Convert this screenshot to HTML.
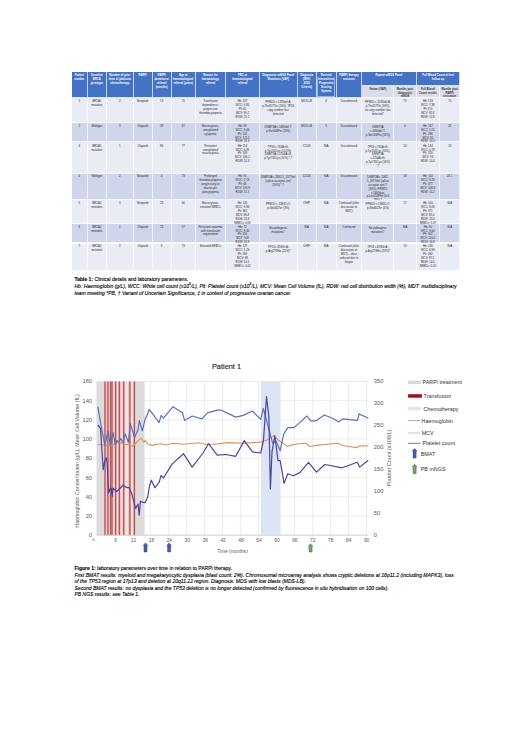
<!DOCTYPE html>
<html><head><meta charset="utf-8"><title>Table and Figure</title>
<style>
html,body{margin:0;padding:0;background:#fff;}
body{width:520px;height:736px;position:relative;overflow:hidden;font-family:"Liberation Sans",sans-serif;}
.c{position:absolute;box-sizing:border-box;border-right:0.7px solid rgba(255,255,255,0.7);border-bottom:0.7px solid rgba(255,255,255,0.8);overflow:visible;}
.c .t{text-align:center;font-size:2.8px;line-height:3.84px;padding:1px 0 0;white-space:nowrap;}
.c.h .t{color:#fff;font-weight:bold;padding-top:0.77px;line-height:4.07px;}
.c.s .t{color:#333;font-weight:bold;padding-top:2.55px;line-height:3.45px;}
.c.b .t{color:#262626;}
.cap{position:absolute;left:74.5px;font-size:5.03px;line-height:6.7px;color:#000;white-space:nowrap;-webkit-text-stroke:0.12px #000;}
.cap i{font-style:italic;}
svg.chart{position:absolute;left:0;top:0;}
svg text{font-family:"Liberation Sans",sans-serif;}
</style></head><body>
<div class="c h" style="left:71.85px;top:72.20px;width:16.00px;height:25.50px;background:#4472c4"><div class="t">Patient<br>number</div></div>
<div class="c h" style="left:87.85px;top:72.20px;width:19.00px;height:25.50px;background:#4472c4"><div class="t">Germline<br>BRCA<br>genotype</div></div>
<div class="c h" style="left:106.85px;top:72.20px;width:27.00px;height:25.50px;background:#4472c4"><div class="t">Number of prior<br>lines of platinum<br>chemotherapy</div></div>
<div class="c h" style="left:133.85px;top:72.20px;width:18.80px;height:25.50px;background:#4472c4"><div class="t">PARPi</div></div>
<div class="c h" style="left:152.65px;top:72.20px;width:19.00px;height:25.50px;background:#4472c4"><div class="t">PARPi<br>duration at<br>referral<br>(months)</div></div>
<div class="c h" style="left:171.65px;top:72.20px;width:24.10px;height:25.50px;background:#4472c4"><div class="t">Age at<br>haematological<br>referral (years)</div></div>
<div class="c h" style="left:195.75px;top:72.20px;width:30.40px;height:25.50px;background:#4472c4"><div class="t">Reason for<br>haematology<br>referral</div></div>
<div class="c h" style="left:226.15px;top:72.20px;width:33.60px;height:25.50px;background:#4472c4"><div class="t">FBC at<br>haematological<br>referral</div></div>
<div class="c h" style="left:259.75px;top:72.20px;width:37.90px;height:25.50px;background:#4472c4"><div class="t">Diagnostic mNGS Panel<br>Mutations (VAF)</div></div>
<div class="c h" style="left:297.65px;top:72.20px;width:19.00px;height:25.50px;background:#4472c4"><div class="t">Diagnosis<br>(WHO<br>2022<br>Criteria)</div></div>
<div class="c h" style="left:316.65px;top:72.20px;width:19.90px;height:25.50px;background:#4472c4"><div class="t">Revised<br>International</div></div>
<div class="c h" style="left:317.10px;top:79.0px;width:18.30px;height:17.80px;background:#4472c4;border:0.6px solid #9db3e6;"><div class="t" style="padding-top:0.8px">Prognostic<br>Scoring<br>System</div></div>
<div class="c h" style="left:336.55px;top:72.20px;width:25.70px;height:25.50px;background:#4472c4"><div class="t">PARPi therapy<br>outcome</div></div>
<div class="c h" style="left:362.25px;top:72.20px;width:54.30px;height:13.75px;background:#4472c4"><div class="t">Repeat mNGS Panel</div></div>
<div class="c h" style="left:416.55px;top:72.20px;width:43.90px;height:13.75px;background:#4472c4"><div class="t">Full Blood Count at last<br>follow up</div></div>
<div class="c s" style="left:362.25px;top:85.95px;width:32.20px;height:11.75px;background:#dadce8"><div class="t">Variant (VAF)</div></div>
<div class="c s" style="left:394.45px;top:85.95px;width:22.10px;height:11.75px;background:#dadce8"><div class="t">Months post<br>diagnostic<br>mNGS</div></div>
<div class="c s" style="left:416.55px;top:85.95px;width:23.60px;height:11.75px;background:#dadce8"><div class="t">Full Blood<br>Count results</div></div>
<div class="c s" style="left:440.15px;top:85.95px;width:20.30px;height:11.75px;background:#dadce8"><div class="t">Months post<br>PARPi<br>cessation</div></div>
<div class="c b" style="left:71.85px;top:97.70px;width:16.00px;height:25.70px;background:#e9ebf5"><div class="t" style="padding-top:2.78px">1</div></div>
<div class="c b" style="left:87.85px;top:97.70px;width:19.00px;height:25.70px;background:#e9ebf5"><div class="t" style="padding-top:2.78px">BRCA1<br>mutation</div></div>
<div class="c b" style="left:106.85px;top:97.70px;width:27.00px;height:25.70px;background:#e9ebf5"><div class="t" style="padding-top:2.78px">2</div></div>
<div class="c b" style="left:133.85px;top:97.70px;width:18.80px;height:25.70px;background:#e9ebf5"><div class="t" style="padding-top:2.78px">Niraparib</div></div>
<div class="c b" style="left:152.65px;top:97.70px;width:19.00px;height:25.70px;background:#e9ebf5"><div class="t" style="padding-top:2.78px">13</div></div>
<div class="c b" style="left:171.65px;top:97.70px;width:24.10px;height:25.70px;background:#e9ebf5"><div class="t" style="padding-top:2.78px">75</div></div>
<div class="c b" style="left:195.75px;top:97.70px;width:30.40px;height:25.70px;background:#e9ebf5"><div class="t" style="padding-top:2.78px">Transfusion<br>dependence,<br>progressive<br>thrombocytopenia</div></div>
<div class="c b" style="left:226.15px;top:97.70px;width:33.60px;height:25.70px;background:#e9ebf5"><div class="t" style="padding-top:2.78px">Hb: 107<br>WCC: 4.80<br>Plt 45<br>MCV: 99.2<br>RDW: 21.1</div></div>
<div class="c b" style="left:259.75px;top:97.70px;width:37.90px;height:25.70px;background:#e9ebf5"><div class="t" style="padding-top:3.78px">PPM1D c.1285del A,<br>p.Thr457Thr (20%), TP53<br>copy number loss<br>detected</div></div>
<div class="c b" style="left:297.65px;top:97.70px;width:19.00px;height:25.70px;background:#e9ebf5"><div class="t" style="padding-top:2.78px">MDS-LB</div></div>
<div class="c b" style="left:316.65px;top:97.70px;width:19.90px;height:25.70px;background:#e9ebf5"><div class="t" style="padding-top:2.78px">4</div></div>
<div class="c b" style="left:336.55px;top:97.70px;width:25.70px;height:25.70px;background:#e9ebf5"><div class="t" style="padding-top:2.78px">Discontinued</div></div>
<div class="c b" style="left:362.25px;top:97.70px;width:32.20px;height:25.70px;background:#e9ebf5"><div class="t" style="padding-top:3.78px">PPM1D c.1285del A,<br>p.Thr457Thr (19%),<br>no copy number loss<br>detected*</div></div>
<div class="c b" style="left:394.45px;top:97.70px;width:22.10px;height:25.70px;background:#e9ebf5"><div class="t" style="padding-top:2.78px">75</div></div>
<div class="c b" style="left:416.55px;top:97.70px;width:23.60px;height:25.70px;background:#e9ebf5"><div class="t" style="padding-top:2.78px">Hb: 133<br>WCC: 7.38<br>Plt 170<br>MCV: 92.8<br>RDW: 12.8</div></div>
<div class="c b" style="left:440.15px;top:97.70px;width:20.30px;height:25.70px;background:#e9ebf5"><div class="t" style="padding-top:2.78px">75</div></div>
<div class="c b" style="left:71.85px;top:123.40px;width:16.00px;height:19.00px;background:#cfd5ea"><div class="t" style="padding-top:1.68px">2</div></div>
<div class="c b" style="left:87.85px;top:123.40px;width:19.00px;height:19.00px;background:#cfd5ea"><div class="t" style="padding-top:1.68px">Wildtype</div></div>
<div class="c b" style="left:106.85px;top:123.40px;width:27.00px;height:19.00px;background:#cfd5ea"><div class="t" style="padding-top:1.68px">3</div></div>
<div class="c b" style="left:133.85px;top:123.40px;width:18.80px;height:19.00px;background:#cfd5ea"><div class="t" style="padding-top:1.68px">Olaparib</div></div>
<div class="c b" style="left:152.65px;top:123.40px;width:19.00px;height:19.00px;background:#cfd5ea"><div class="t" style="padding-top:1.68px">38</div></div>
<div class="c b" style="left:171.65px;top:123.40px;width:24.10px;height:19.00px;background:#cfd5ea"><div class="t" style="padding-top:1.68px">67</div></div>
<div class="c b" style="left:195.75px;top:123.40px;width:30.40px;height:19.00px;background:#cfd5ea"><div class="t" style="padding-top:1.68px">Macrocytosis,<br>unexplained<br>cytopenia</div></div>
<div class="c b" style="left:226.15px;top:123.40px;width:33.60px;height:19.00px;background:#cfd5ea"><div class="t" style="padding-top:1.68px">Hb: 99<br>WCC: 3.44<br>Plt: 102<br>MCV: 115.5<br>RDW: 24.4</div></div>
<div class="c b" style="left:259.75px;top:123.40px;width:37.90px;height:19.00px;background:#cfd5ea"><div class="t" style="padding-top:2.68px">DNMT3A c.1690del T,<br>p.Ser564Pro (29%)</div></div>
<div class="c b" style="left:297.65px;top:123.40px;width:19.00px;height:19.00px;background:#cfd5ea"><div class="t" style="padding-top:1.68px">MDS-LB</div></div>
<div class="c b" style="left:316.65px;top:123.40px;width:19.90px;height:19.00px;background:#cfd5ea"><div class="t" style="padding-top:1.68px">3</div></div>
<div class="c b" style="left:336.55px;top:123.40px;width:25.70px;height:19.00px;background:#cfd5ea"><div class="t" style="padding-top:1.68px">Discontinued</div></div>
<div class="c b" style="left:362.25px;top:123.40px;width:32.20px;height:19.00px;background:#cfd5ea"><div class="t" style="padding-top:2.68px">DNMT3A<br>c.1690del T,<br>p.Ser564Pro (18%)</div></div>
<div class="c b" style="left:394.45px;top:123.40px;width:22.10px;height:19.00px;background:#cfd5ea"><div class="t" style="padding-top:1.68px">6</div></div>
<div class="c b" style="left:416.55px;top:123.40px;width:23.60px;height:19.00px;background:#cfd5ea"><div class="t" style="padding-top:1.68px">Hb: 137<br>WCC: 5.55<br>Plt: 238<br>MCV: 95<br>RDW: 13.3</div></div>
<div class="c b" style="left:440.15px;top:123.40px;width:20.30px;height:19.00px;background:#cfd5ea"><div class="t" style="padding-top:1.68px">32</div></div>
<div class="c b" style="left:71.85px;top:142.40px;width:16.00px;height:31.50px;background:#e9ebf5"><div class="t" style="padding-top:2.28px">3</div></div>
<div class="c b" style="left:87.85px;top:142.40px;width:19.00px;height:31.50px;background:#e9ebf5"><div class="t" style="padding-top:2.28px">BRCA1<br>mutation</div></div>
<div class="c b" style="left:106.85px;top:142.40px;width:27.00px;height:31.50px;background:#e9ebf5"><div class="t" style="padding-top:2.28px">1</div></div>
<div class="c b" style="left:133.85px;top:142.40px;width:18.80px;height:31.50px;background:#e9ebf5"><div class="t" style="padding-top:2.28px">Olaparib</div></div>
<div class="c b" style="left:152.65px;top:142.40px;width:19.00px;height:31.50px;background:#e9ebf5"><div class="t" style="padding-top:2.28px">86</div></div>
<div class="c b" style="left:171.65px;top:142.40px;width:24.10px;height:31.50px;background:#e9ebf5"><div class="t" style="padding-top:2.28px">77</div></div>
<div class="c b" style="left:195.75px;top:142.40px;width:30.40px;height:31.50px;background:#e9ebf5"><div class="t" style="padding-top:2.28px">Persistent<br>unexplained<br>macrocytosis</div></div>
<div class="c b" style="left:226.15px;top:142.40px;width:33.60px;height:31.50px;background:#e9ebf5"><div class="t" style="padding-top:2.28px">Hb: 116<br>WCC: 6.81<br>Plt: 109<br>MCV: 106.1<br>RDW: 14.3</div></div>
<div class="c b" style="left:259.75px;top:142.40px;width:37.90px;height:31.50px;background:#e9ebf5"><div class="t" style="padding-top:3.28px">TP53 c.761A>G,<br>p.Tyr254Cys (10.5%),<br>DNMT3A c.2204A>G,<br>p.Tyr735Cys (14%) *,†</div></div>
<div class="c b" style="left:297.65px;top:142.40px;width:19.00px;height:31.50px;background:#e9ebf5"><div class="t" style="padding-top:2.28px">CCUS</div></div>
<div class="c b" style="left:316.65px;top:142.40px;width:19.90px;height:31.50px;background:#e9ebf5"><div class="t" style="padding-top:2.28px">N/A</div></div>
<div class="c b" style="left:336.55px;top:142.40px;width:25.70px;height:31.50px;background:#e9ebf5"><div class="t" style="padding-top:2.28px">Discontinued</div></div>
<div class="c b" style="left:362.25px;top:142.40px;width:32.20px;height:31.50px;background:#e9ebf5"><div class="t" style="padding-top:3.28px">TP53 c.761A>G,<br>p.Tyr254Cys (16%),<br>DNMT3A<br>c.2204A>G,<br>p.Tyr735Cys (16%)<br>*,†</div></div>
<div class="c b" style="left:394.45px;top:142.40px;width:22.10px;height:31.50px;background:#e9ebf5"><div class="t" style="padding-top:2.28px">20</div></div>
<div class="c b" style="left:416.55px;top:142.40px;width:23.60px;height:31.50px;background:#e9ebf5"><div class="t" style="padding-top:2.28px">Hb: 144<br>WCC: 6.78<br>Plt: 320<br>MCV: 93<br>RDW: 13.4</div></div>
<div class="c b" style="left:440.15px;top:142.40px;width:20.30px;height:31.50px;background:#e9ebf5"><div class="t" style="padding-top:2.28px">19</div></div>
<div class="c b" style="left:71.85px;top:173.90px;width:16.00px;height:25.90px;background:#cfd5ea"><div class="t" style="padding-top:1.28px">4</div></div>
<div class="c b" style="left:87.85px;top:173.90px;width:19.00px;height:25.90px;background:#cfd5ea"><div class="t" style="padding-top:1.28px">Wildtype</div></div>
<div class="c b" style="left:106.85px;top:173.90px;width:27.00px;height:25.90px;background:#cfd5ea"><div class="t" style="padding-top:1.28px">2</div></div>
<div class="c b" style="left:133.85px;top:173.90px;width:18.80px;height:25.90px;background:#cfd5ea"><div class="t" style="padding-top:1.28px">Niraparib</div></div>
<div class="c b" style="left:152.65px;top:173.90px;width:19.00px;height:25.90px;background:#cfd5ea"><div class="t" style="padding-top:1.28px">4</div></div>
<div class="c b" style="left:171.65px;top:173.90px;width:24.10px;height:25.90px;background:#cfd5ea"><div class="t" style="padding-top:1.28px">73</div></div>
<div class="c b" style="left:195.75px;top:173.90px;width:30.40px;height:25.90px;background:#cfd5ea"><div class="t" style="padding-top:1.28px">Prolonged<br>thrombocytopenia<br>progressing to<br>macrocytic<br>pancytopenia</div></div>
<div class="c b" style="left:226.15px;top:173.90px;width:33.60px;height:25.90px;background:#cfd5ea"><div class="t" style="padding-top:1.28px">Hb: 95<br>WCC: 2.19<br>Plt: 48<br>MCV: 109.9<br>RDW: 15.7</div></div>
<div class="c b" style="left:259.75px;top:173.90px;width:37.90px;height:25.90px;background:#cfd5ea"><div class="t" style="padding-top:2.28px">DNMT3A c.2082-1_2077del<br>(splice acceptor site)<br>(59%) * †</div></div>
<div class="c b" style="left:297.65px;top:173.90px;width:19.00px;height:25.90px;background:#cfd5ea"><div class="t" style="padding-top:1.28px">CCUS</div></div>
<div class="c b" style="left:316.65px;top:173.90px;width:19.90px;height:25.90px;background:#cfd5ea"><div class="t" style="padding-top:1.28px">N/A</div></div>
<div class="c b" style="left:336.55px;top:173.90px;width:25.70px;height:25.90px;background:#cfd5ea"><div class="t" style="padding-top:1.28px">Discontinued</div></div>
<div class="c b" style="left:362.25px;top:173.90px;width:32.20px;height:25.90px;background:#cfd5ea"><div class="t" style="padding-top:2.28px">DNMT3A c.2082-<br>1_2077del (splice<br>acceptor site) †<br>(18%), PPM1D<br>c.1661dup,<br>p.Leu554Phe (fsX<br>18%) †</div></div>
<div class="c b" style="left:394.45px;top:173.90px;width:22.10px;height:25.90px;background:#cfd5ea"><div class="t" style="padding-top:1.28px">18</div></div>
<div class="c b" style="left:416.55px;top:173.90px;width:23.60px;height:25.90px;background:#cfd5ea"><div class="t" style="padding-top:1.28px">Hb: 114<br>WCC: 8.29<br>Plt: 377<br>MCV: 106.8<br>RDW: 15.2</div></div>
<div class="c b" style="left:440.15px;top:173.90px;width:20.30px;height:25.90px;background:#cfd5ea"><div class="t" style="padding-top:1.28px">24 ‡</div></div>
<div class="c b" style="left:71.85px;top:199.80px;width:16.00px;height:24.40px;background:#e9ebf5"><div class="t" style="padding-top:2.58px">5</div></div>
<div class="c b" style="left:87.85px;top:199.80px;width:19.00px;height:24.40px;background:#e9ebf5"><div class="t" style="padding-top:2.58px">BRCA2<br>mutation</div></div>
<div class="c b" style="left:106.85px;top:199.80px;width:27.00px;height:24.40px;background:#e9ebf5"><div class="t" style="padding-top:2.58px">3</div></div>
<div class="c b" style="left:133.85px;top:199.80px;width:18.80px;height:24.40px;background:#e9ebf5"><div class="t" style="padding-top:2.58px">Niraparib</div></div>
<div class="c b" style="left:152.65px;top:199.80px;width:19.00px;height:24.40px;background:#e9ebf5"><div class="t" style="padding-top:2.58px">29</div></div>
<div class="c b" style="left:171.65px;top:199.80px;width:24.10px;height:24.40px;background:#e9ebf5"><div class="t" style="padding-top:2.58px">60</div></div>
<div class="c b" style="left:195.75px;top:199.80px;width:30.40px;height:24.40px;background:#e9ebf5"><div class="t" style="padding-top:2.58px">Macrocytosis,<br>elevated NRBCs</div></div>
<div class="c b" style="left:226.15px;top:199.80px;width:33.60px;height:24.40px;background:#e9ebf5"><div class="t" style="padding-top:2.58px">Hb: 145<br>WCC: 9.96<br>Plt: 362<br>MCV: 96.8<br>RDW: 13.8<br>NRBCs: 0.09</div></div>
<div class="c b" style="left:259.75px;top:199.80px;width:37.90px;height:24.40px;background:#e9ebf5"><div class="t" style="padding-top:3.58px">PPM1D c.1384C>T,<br>p.Gln462Ter (3%)</div></div>
<div class="c b" style="left:297.65px;top:199.80px;width:19.00px;height:24.40px;background:#e9ebf5"><div class="t" style="padding-top:2.58px">CHIP</div></div>
<div class="c b" style="left:316.65px;top:199.80px;width:19.90px;height:24.40px;background:#e9ebf5"><div class="t" style="padding-top:2.58px">N/A</div></div>
<div class="c b" style="left:336.55px;top:199.80px;width:25.70px;height:24.40px;background:#e9ebf5"><div class="t" style="padding-top:2.58px">Continued (after<br>discussion at<br>MDT)</div></div>
<div class="c b" style="left:362.25px;top:199.80px;width:32.20px;height:24.40px;background:#e9ebf5"><div class="t" style="padding-top:3.58px">PPM1D c.1384C>T,<br>p.Gln462Ter (4%)</div></div>
<div class="c b" style="left:394.45px;top:199.80px;width:22.10px;height:24.40px;background:#e9ebf5"><div class="t" style="padding-top:2.58px">17</div></div>
<div class="c b" style="left:416.55px;top:199.80px;width:23.60px;height:24.40px;background:#e9ebf5"><div class="t" style="padding-top:2.58px">Hb: 140<br>WCC: 8.08<br>Plt: 371<br>MCV: 85.0<br>RDW: 13.0<br>NRBCs: 0.07</div></div>
<div class="c b" style="left:440.15px;top:199.80px;width:20.30px;height:24.40px;background:#e9ebf5"><div class="t" style="padding-top:2.58px">N/A</div></div>
<div class="c b" style="left:71.85px;top:224.20px;width:16.00px;height:19.30px;background:#cfd5ea"><div class="t" style="padding-top:1.58px">6</div></div>
<div class="c b" style="left:87.85px;top:224.20px;width:19.00px;height:19.30px;background:#cfd5ea"><div class="t" style="padding-top:1.58px">BRCA2<br>mutation</div></div>
<div class="c b" style="left:106.85px;top:224.20px;width:27.00px;height:19.30px;background:#cfd5ea"><div class="t" style="padding-top:1.58px">1</div></div>
<div class="c b" style="left:133.85px;top:224.20px;width:18.80px;height:19.30px;background:#cfd5ea"><div class="t" style="padding-top:1.58px">Olaparib</div></div>
<div class="c b" style="left:152.65px;top:224.20px;width:19.00px;height:19.30px;background:#cfd5ea"><div class="t" style="padding-top:1.58px">18</div></div>
<div class="c b" style="left:171.65px;top:224.20px;width:24.10px;height:19.30px;background:#cfd5ea"><div class="t" style="padding-top:1.58px">57</div></div>
<div class="c b" style="left:195.75px;top:224.20px;width:30.40px;height:19.30px;background:#cfd5ea"><div class="t" style="padding-top:1.58px">Persistent anaemia<br>with transfusion<br>requirement</div></div>
<div class="c b" style="left:226.15px;top:224.20px;width:33.60px;height:19.30px;background:#cfd5ea"><div class="t" style="padding-top:1.58px">Hb: 72<br>WCC: 8.40<br>Plt: 310<br>MCV: 103<br>RDW: 20.8</div></div>
<div class="c b" style="left:259.75px;top:224.20px;width:37.90px;height:19.30px;background:#cfd5ea"><div class="t" style="padding-top:2.58px">No pathogenic<br>mutations*</div></div>
<div class="c b" style="left:297.65px;top:224.20px;width:19.00px;height:19.30px;background:#cfd5ea"><div class="t" style="padding-top:1.58px">N/A</div></div>
<div class="c b" style="left:316.65px;top:224.20px;width:19.90px;height:19.30px;background:#cfd5ea"><div class="t" style="padding-top:1.58px">N/A</div></div>
<div class="c b" style="left:336.55px;top:224.20px;width:25.70px;height:19.30px;background:#cfd5ea"><div class="t" style="padding-top:1.58px">Continued</div></div>
<div class="c b" style="left:362.25px;top:224.20px;width:32.20px;height:19.30px;background:#cfd5ea"><div class="t" style="padding-top:2.58px">No pathogenic<br>mutations*</div></div>
<div class="c b" style="left:394.45px;top:224.20px;width:22.10px;height:19.30px;background:#cfd5ea"><div class="t" style="padding-top:1.58px">N/A</div></div>
<div class="c b" style="left:416.55px;top:224.20px;width:23.60px;height:19.30px;background:#cfd5ea"><div class="t" style="padding-top:1.58px">Hb: 80<br>WCC: 9.00<br>Plt: 302<br>MCV: 116.0<br>RDW: 16.8</div></div>
<div class="c b" style="left:440.15px;top:224.20px;width:20.30px;height:19.30px;background:#cfd5ea"><div class="t" style="padding-top:1.58px">N/A</div></div>
<div class="c b" style="left:71.85px;top:243.50px;width:16.00px;height:27.30px;background:#e9ebf5"><div class="t" style="padding-top:1.88px">7</div></div>
<div class="c b" style="left:87.85px;top:243.50px;width:19.00px;height:27.30px;background:#e9ebf5"><div class="t" style="padding-top:1.88px">BRCA2<br>mutation</div></div>
<div class="c b" style="left:106.85px;top:243.50px;width:27.00px;height:27.30px;background:#e9ebf5"><div class="t" style="padding-top:1.88px">2</div></div>
<div class="c b" style="left:133.85px;top:243.50px;width:18.80px;height:27.30px;background:#e9ebf5"><div class="t" style="padding-top:1.88px">Olaparib</div></div>
<div class="c b" style="left:152.65px;top:243.50px;width:19.00px;height:27.30px;background:#e9ebf5"><div class="t" style="padding-top:1.88px">9</div></div>
<div class="c b" style="left:171.65px;top:243.50px;width:24.10px;height:27.30px;background:#e9ebf5"><div class="t" style="padding-top:1.88px">73</div></div>
<div class="c b" style="left:195.75px;top:243.50px;width:30.40px;height:27.30px;background:#e9ebf5"><div class="t" style="padding-top:1.88px">Elevated NRBCs</div></div>
<div class="c b" style="left:226.15px;top:243.50px;width:33.60px;height:27.30px;background:#e9ebf5"><div class="t" style="padding-top:1.88px">Hb: 127<br>WCC: 5.29<br>Plt: 280<br>MCV: 88<br>RDW: 14.1<br>NRBCs: 0.02</div></div>
<div class="c b" style="left:259.75px;top:243.50px;width:37.90px;height:27.30px;background:#e9ebf5"><div class="t" style="padding-top:2.88px">TP53 c.818G>A,<br>p.Arg273His (22%)*</div></div>
<div class="c b" style="left:297.65px;top:243.50px;width:19.00px;height:27.30px;background:#e9ebf5"><div class="t" style="padding-top:1.88px">CHIP</div></div>
<div class="c b" style="left:316.65px;top:243.50px;width:19.90px;height:27.30px;background:#e9ebf5"><div class="t" style="padding-top:1.88px">N/A</div></div>
<div class="c b" style="left:336.55px;top:243.50px;width:25.70px;height:27.30px;background:#e9ebf5"><div class="t" style="padding-top:1.88px">Continued (after<br>discussion at<br>MDT) – dose<br>reduced due to<br>fatigue</div></div>
<div class="c b" style="left:362.25px;top:243.50px;width:32.20px;height:27.30px;background:#e9ebf5"><div class="t" style="padding-top:2.88px">TP53 c.818G>A,<br>p.Arg273His (19%)*</div></div>
<div class="c b" style="left:394.45px;top:243.50px;width:22.10px;height:27.30px;background:#e9ebf5"><div class="t" style="padding-top:1.88px">13</div></div>
<div class="c b" style="left:416.55px;top:243.50px;width:23.60px;height:27.30px;background:#e9ebf5"><div class="t" style="padding-top:1.88px">Hb: 136<br>WCC: 6.93<br>Plt: 432<br>MCV: 87.5<br>RDW: 14.0<br>NRBCs: 0.01</div></div>
<div class="c b" style="left:440.15px;top:243.50px;width:20.30px;height:27.30px;background:#e9ebf5"><div class="t" style="padding-top:1.88px">N/A</div></div>
<div class="cap" style="top:276.2px"><b>Table 1:</b> Clinical details and laboratory parameters.<br><i>Hb: Haemoglobin (g/L), WCC: White cell count (x10<sup style="font-size:3px;line-height:0">9</sup>/L), Plt: Platelet count (x10<sup style="font-size:3px;line-height:0">9</sup>/L), MCV: Mean Cell Volume (fL), RDW: red cell distribution width (%), MDT: multidisciplinary</i><br><i>team meeting *PB, † Variant of Uncertain Significance, ‡ in context of progressive ovarian cancer.</i></div>
<svg class="chart" width="520" height="736" viewBox="0 0 520 736">
<g stroke="#e8e8e8" stroke-width="0.8"><line x1="96.9" x2="368" y1="535.2" y2="535.2"/><line x1="96.9" x2="368" y1="516.0" y2="516.0"/><line x1="96.9" x2="368" y1="496.8" y2="496.8"/><line x1="96.9" x2="368" y1="477.6" y2="477.6"/><line x1="96.9" x2="368" y1="458.4" y2="458.4"/><line x1="96.9" x2="368" y1="439.1" y2="439.1"/><line x1="96.9" x2="368" y1="419.9" y2="419.9"/><line x1="96.9" x2="368" y1="400.7" y2="400.7"/><line x1="96.9" x2="368" y1="381.5" y2="381.5"/><line x1="96.6" x2="96.6" y1="381.5" y2="535.2"/><line x1="114.6" x2="114.6" y1="381.5" y2="535.2"/><line x1="132.6" x2="132.6" y1="381.5" y2="535.2"/><line x1="150.6" x2="150.6" y1="381.5" y2="535.2"/><line x1="168.6" x2="168.6" y1="381.5" y2="535.2"/><line x1="186.6" x2="186.6" y1="381.5" y2="535.2"/><line x1="204.6" x2="204.6" y1="381.5" y2="535.2"/><line x1="222.6" x2="222.6" y1="381.5" y2="535.2"/><line x1="240.6" x2="240.6" y1="381.5" y2="535.2"/><line x1="258.6" x2="258.6" y1="381.5" y2="535.2"/><line x1="276.6" x2="276.6" y1="381.5" y2="535.2"/><line x1="294.6" x2="294.6" y1="381.5" y2="535.2"/><line x1="312.6" x2="312.6" y1="381.5" y2="535.2"/><line x1="330.6" x2="330.6" y1="381.5" y2="535.2"/><line x1="348.6" x2="348.6" y1="381.5" y2="535.2"/><line x1="366.6" x2="366.6" y1="381.5" y2="535.2"/></g>
<rect x="96.9" y="381.5" width="47.6" height="153.7" fill="#dcdcdc"/>
<rect x="261.0" y="381.5" width="19.6" height="153.7" fill="#dde4f4"/>
<rect x="103.2" y="381.5" width="32.8" height="153.7" fill="#f3e2e2"/>
<g stroke="#eebcbc" stroke-width="2.6"><line x1="105" x2="105" y1="381.5" y2="535.2"/><line x1="107.9" x2="107.9" y1="381.5" y2="535.2"/><line x1="110.6" x2="110.6" y1="381.5" y2="535.2"/><line x1="112.0" x2="112.0" y1="381.5" y2="535.2"/><line x1="115.6" x2="115.6" y1="381.5" y2="535.2"/><line x1="119.4" x2="119.4" y1="381.5" y2="535.2"/><line x1="123.7" x2="123.7" y1="381.5" y2="535.2"/><line x1="129.8" x2="129.8" y1="381.5" y2="535.2"/><line x1="134.4" x2="134.4" y1="381.5" y2="535.2"/></g>
<g stroke="#b0585b" stroke-width="1.3"><line x1="105" x2="105" y1="381.5" y2="535.2"/><line x1="107.9" x2="107.9" y1="381.5" y2="535.2"/><line x1="110.6" x2="110.6" y1="381.5" y2="535.2"/><line x1="112.0" x2="112.0" y1="381.5" y2="535.2"/><line x1="115.6" x2="115.6" y1="381.5" y2="535.2"/><line x1="119.4" x2="119.4" y1="381.5" y2="535.2"/><line x1="123.7" x2="123.7" y1="381.5" y2="535.2"/><line x1="129.8" x2="129.8" y1="381.5" y2="535.2"/><line x1="134.4" x2="134.4" y1="381.5" y2="535.2"/></g>
<line x1="96.9" x2="368" y1="535.2" y2="535.2" stroke="#d0d0d0" stroke-width="0.8"/>
<polyline points="97.8,445.0 100.0,444.2 104.8,445.2 109.6,446.2 114.0,444.5 119.2,442.3 124.0,444.5 128.8,444.2 132.7,446.2 135.0,444.0 138.5,440.4 141.3,438.0 143.8,442.3 145.2,440.4 148.3,444.3 152.0,445.4 160.7,443.7 166.0,445.0 173.7,443.2 183.5,444.3 198.7,442.8 205.2,444.3 215.0,444.3 228.0,442.6 243.3,443.2 260.7,442.1 267.2,440.0 273.7,435.6 278.0,440.0 287.8,446.5 290.0,445.4 298.7,443.7 305.7,443.2 310.0,446.5 316.1,445.4 337.8,443.2 343.3,445.8 357.4,447.6 359.1,445.8 368.3,446.0" fill="none" stroke="#dc9256" stroke-width="1.1" stroke-linejoin="round"/>
<polyline points="97.8,406.5 101.5,428.0 104.9,445.7 108.1,430.4 110.3,445.5 113.0,432.7 115.4,445.2 116.8,440.4 118.8,442.3 120.7,438.5 123.1,442.8 125.0,433.7 128.4,442.3 130.3,423.6 134.6,437.5 138.0,429.8 139.4,420.7 142.3,430.8 145.2,418.8 147.1,415.4 149.1,409.5 152.0,412.8 159.1,422.6 161.1,415.4 163.5,418.2 173.0,406.7 182.4,412.8 184.6,420.4 192.2,416.0 202.0,418.9 207.4,412.8 217.2,410.2 221.5,410.2 235.7,417.1 243.3,415.4 252.4,411.0 260.7,419.3 263.3,408.4 272.6,443.2 275.9,441.0 280.2,450.8 283.5,434.5 287.8,427.6 293.9,427.6 299.8,422.6 307.0,416.0 310.7,420.8 316.1,420.8 324.3,415.0 332.4,418.2 338.9,421.9 342.6,418.9 357.4,420.4 359.1,413.9 368.3,418.2" fill="none" stroke="#5a72b8" stroke-width="1.2" stroke-linejoin="round"/>
<polyline points="97.8,425.0 100.5,428.3 103.2,469.6 104.8,460.8 106.3,457.9 107.2,462.7 108.5,493.0 110.0,489.0 111.1,488.2 112.3,496.3 113.0,488.2 116.8,491.5 123.1,485.3 126.9,487.7 129.3,487.7 131.7,493.5 135.6,508.4 138.0,504.0 139.2,515.1 140.4,501.2 142.3,502.1 145.2,502.6 147.6,497.3 149.5,486.0 151.3,480.2 154.8,487.8 159.1,482.3 161.1,475.4 163.5,478.0 172.2,463.9 183.5,453.7 192.2,467.1 203.0,453.0 208.5,443.7 217.2,455.2 225.9,454.5 235.7,456.3 244.3,440.6 252.4,451.9 260.7,453.0 263.5,440.0 266.5,396.5 268.9,417.1 270.4,488.9 272.0,451.9 274.8,435.6 278.0,460.6 280.2,460.6 284.1,483.4 287.8,473.7 293.3,475.8 299.8,472.6 308.5,462.3 316.5,472.1 324.8,464.5 342.2,467.8 357.4,462.3 359.6,467.1 368.3,460.2" fill="none" stroke="#5043a0" stroke-width="1.2" stroke-linejoin="round"/>
<path d="M145.50,543.00 L147.80,545.50 L147.00,545.50 L147.00,551.90 L144.00,551.90 L144.00,545.50 L143.20,545.50 Z" fill="#4560a8" stroke="#283c78" stroke-width="0.5" stroke-linejoin="miter"/>
<path d="M169.10,543.00 L171.40,545.50 L170.60,545.50 L170.60,551.90 L167.60,551.90 L167.60,545.50 L166.80,545.50 Z" fill="#4560a8" stroke="#283c78" stroke-width="0.5" stroke-linejoin="miter"/>
<path d="M310.55,543.80 L312.85,546.30 L312.05,546.30 L312.05,551.90 L309.05,551.90 L309.05,546.30 L308.25,546.30 Z" fill="#7fa070" stroke="#3a5e30" stroke-width="0.5" stroke-linejoin="miter"/>
<rect x="408.1" y="380.6" width="13.1" height="3.4" fill="#d9d9d9"/>
<rect x="408.1" y="394.2" width="13.8" height="3.5" fill="#a80c1c"/>
<rect x="408.1" y="407.1" width="13" height="3.2" fill="#dfe3f3"/>
<line x1="408.1" x2="420.3" y1="420.6" y2="420.6" stroke="#8593c0" stroke-width="0.8"/>
<line x1="408.1" x2="420.3" y1="433" y2="433" stroke="#e39a68" stroke-width="0.7"/>
<line x1="408.1" x2="420.3" y1="443.3" y2="443.3" stroke="#56508c" stroke-width="0.8"/>
<path d="M414.60,448.50 L416.90,451.00 L416.10,451.00 L416.10,458.00 L413.10,458.00 L413.10,451.00 L412.30,451.00 Z" fill="#4560a8" stroke="#283c78" stroke-width="0.5" stroke-linejoin="miter"/>
<path d="M414.60,464.20 L416.90,466.70 L416.10,466.70 L416.10,473.60 L413.10,473.60 L413.10,466.70 L412.30,466.70 Z" fill="#7fa070" stroke="#3a5e30" stroke-width="0.5" stroke-linejoin="miter"/>
</svg>
<svg class="chart" width="520" height="736" viewBox="0 0 520 736">
<text x="92.1" y="537.15" font-size="5.8" text-anchor="end" fill="#595959">0</text>
<text x="92.1" y="517.94" font-size="5.8" text-anchor="end" fill="#595959">20</text>
<text x="92.1" y="498.73" font-size="5.8" text-anchor="end" fill="#595959">40</text>
<text x="92.1" y="479.51" font-size="5.8" text-anchor="end" fill="#595959">60</text>
<text x="92.1" y="460.30" font-size="5.8" text-anchor="end" fill="#595959">80</text>
<text x="92.1" y="441.09" font-size="5.8" text-anchor="end" fill="#595959">100</text>
<text x="92.1" y="421.88" font-size="5.8" text-anchor="end" fill="#595959">120</text>
<text x="92.1" y="402.66" font-size="5.8" text-anchor="end" fill="#595959">140</text>
<text x="92.1" y="383.45" font-size="5.8" text-anchor="end" fill="#595959">160</text>
<text x="373.8" y="537.15" font-size="5.8" fill="#595959">0</text>
<text x="373.8" y="515.19" font-size="5.8" fill="#595959">50</text>
<text x="373.8" y="493.24" font-size="5.8" fill="#595959">100</text>
<text x="373.8" y="471.28" font-size="5.8" fill="#595959">150</text>
<text x="373.8" y="449.32" font-size="5.8" fill="#595959">200</text>
<text x="373.8" y="427.36" font-size="5.8" fill="#595959">250</text>
<text x="373.8" y="405.41" font-size="5.8" fill="#595959">300</text>
<text x="373.8" y="383.45" font-size="5.8" fill="#595959">350</text>
<text x="115.53" y="542.0" font-size="4.85" text-anchor="middle" fill="#595959">6</text>
<text x="133.47" y="542.0" font-size="4.85" text-anchor="middle" fill="#595959">12</text>
<text x="151.40" y="542.0" font-size="4.85" text-anchor="middle" fill="#595959">18</text>
<text x="169.33" y="542.0" font-size="4.85" text-anchor="middle" fill="#595959">24</text>
<text x="187.27" y="542.0" font-size="4.85" text-anchor="middle" fill="#595959">30</text>
<text x="205.20" y="542.0" font-size="4.85" text-anchor="middle" fill="#595959">36</text>
<text x="223.13" y="542.0" font-size="4.85" text-anchor="middle" fill="#595959">42</text>
<text x="241.07" y="542.0" font-size="4.85" text-anchor="middle" fill="#595959">48</text>
<text x="259.00" y="542.0" font-size="4.85" text-anchor="middle" fill="#595959">54</text>
<text x="276.93" y="542.0" font-size="4.85" text-anchor="middle" fill="#595959">60</text>
<text x="294.87" y="542.0" font-size="4.85" text-anchor="middle" fill="#595959">66</text>
<text x="312.80" y="542.0" font-size="4.85" text-anchor="middle" fill="#595959">72</text>
<text x="330.73" y="542.0" font-size="4.85" text-anchor="middle" fill="#595959">78</text>
<text x="348.67" y="542.0" font-size="4.85" text-anchor="middle" fill="#595959">84</text>
<text x="366.60" y="542.0" font-size="4.85" text-anchor="middle" fill="#595959">90</text>
<text x="93.5" y="541.3" font-size="4.1" text-anchor="middle" fill="#595959">0</text>
<text x="211.9" y="369.1" font-size="7.4" fill="#262626" stroke="#262626" stroke-width="0.15">Patient 1</text>
<text x="232.6" y="552.6" font-size="4.75" text-anchor="middle" fill="#595959">Time (months)</text>
<text transform="translate(79.3,461) rotate(-90)" font-size="5.3" text-anchor="middle" fill="#595959">Haemoglobin Concentration (g/L), Mean Cell Volume (fL)</text>
<text transform="translate(391.1,458) rotate(-90)" font-size="5.55" text-anchor="middle" fill="#595959">Platelet Count (x109/L)</text>
<text x="422.6" y="384.2" font-size="5.35" fill="#2e2e2e">PARPi treatment</text>
<text x="423.6" y="398" font-size="5.35" fill="#2e2e2e">Transfusion</text>
<text x="423.4" y="410.5" font-size="5.35" fill="#2e2e2e">Chemotherapy</text>
<text x="421.6" y="422.8" font-size="5.35" fill="#2e2e2e">Haemoglobin</text>
<text x="421.8" y="434.8" font-size="5.35" fill="#2e2e2e">MCV</text>
<text x="422.5" y="445.2" font-size="5.35" fill="#2e2e2e">Platelet count</text>
<text x="420.8" y="455.8" font-size="5.35" fill="#2e2e2e">BMAT</text>
<text x="420.8" y="471.1" font-size="5.35" fill="#2e2e2e">PB mNGS</text>
</svg>
<div class="cap" style="top:565.4px;line-height:6.42px"><b>Figure 1:</b> laboratory parameters over time in relation to PARPi therapy.<br><i>First BMAT results: myeloid and megakaryocytic dysplasia (blast count: 2%). Chromosomal microarray analysis shows cryptic deletions at 16p11.2 (including MAPK3), loss</i><br><i>of the TP53 region at 17p13 and deletion at 20q11.22 region. Diagnosis: MDS with low blasts (MDS-LB).</i><br><i>Second BMAT results: no dysplasia and the TP53 deletion is no longer detected (confirmed by fluorescence in situ hybridisation on 100 cells).</i><br><i>PB NGS results: see Table 1.</i></div>
</body></html>
